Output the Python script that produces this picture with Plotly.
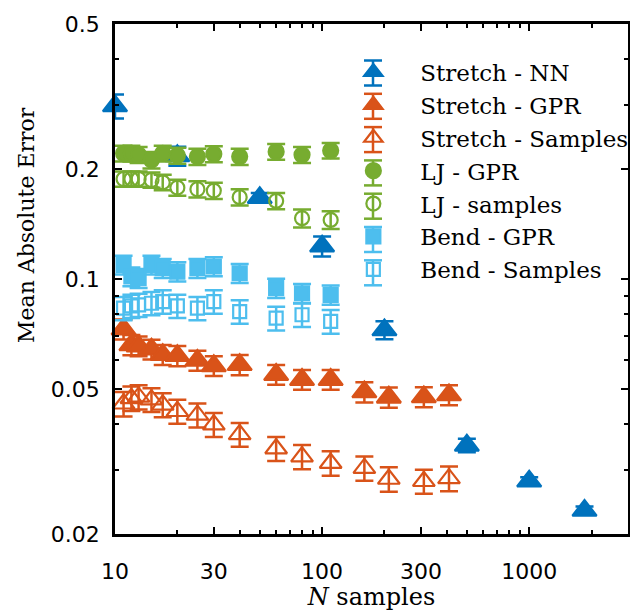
import plotly.graph_objects as go
import math

# ---------------- data ----------------
nn_x = [10, 20, 50, 100, 200, 500, 1000, 1850]
nn_y = [0.298, 0.2175, 0.167, 0.123, 0.0725, 0.0350, 0.0279, 0.0232]
nn_err = [0.0225, 0.013, 0.005, 0.0078, 0.0041, 0.0015, 0.0007, 0.0006]

stretch_x = [11, 12, 13, 15, 17, 20, 25, 30, 40, 60, 80, 110, 160, 210, 310, 410]
stretch_gpr = [0.0729, 0.066, 0.0655, 0.0642, 0.062, 0.0616, 0.0598, 0.0578,
               0.0582, 0.0547, 0.053, 0.053, 0.049, 0.0474, 0.0475, 0.0481]
stretch_gpr_err = [0.0046, 0.0042, 0.0041, 0.0040, 0.0039, 0.0039, 0.0038, 0.0036,
                   0.0037, 0.0034, 0.0033, 0.0033, 0.0031, 0.0030, 0.0030, 0.0030]
stretch_samples = [0.0455, 0.0471, 0.0475, 0.0467, 0.0452, 0.0434, 0.0424, 0.0399,
                   0.0375, 0.0343, 0.0326, 0.0313, 0.0303, 0.0283, 0.0279, 0.0284]
stretch_samples_err = [0.0035, 0.0036, 0.0036, 0.0035, 0.0034, 0.0033, 0.0032, 0.0030,
                       0.0028, 0.0026, 0.0025, 0.0024, 0.0023, 0.0022, 0.0021, 0.0022]

lj_x = [11, 12, 13, 15, 17, 20, 25, 30, 40, 60, 80, 110]
lj_gpr = [0.221, 0.221, 0.219, 0.212, 0.221, 0.218, 0.2165, 0.220, 0.2165, 0.2234, 0.219, 0.2249]
lj_gpr_err = [0.011, 0.011, 0.011, 0.011, 0.011, 0.011, 0.011, 0.011, 0.011, 0.011, 0.011, 0.011]
lj_samples = [0.188, 0.188, 0.188, 0.1868, 0.184, 0.178, 0.1762, 0.1747, 0.1676, 0.1637, 0.1468, 0.1452]
lj_samples_err = [0.009, 0.009, 0.009, 0.009, 0.009, 0.009, 0.009, 0.009, 0.0085, 0.0085, 0.0083, 0.0082]

bend_x = [11, 12, 13, 15, 17, 20, 25, 30, 40, 60, 80, 110]
bend_gpr = [0.1093, 0.1016, 0.1005, 0.1093, 0.1071, 0.1048, 0.1071, 0.1082, 0.1037, 0.0944, 0.0914, 0.0905]
bend_gpr_err = [0.0065, 0.006, 0.006, 0.0065, 0.0064, 0.0063, 0.0064, 0.0065, 0.0062, 0.0057, 0.0055, 0.0055]
bend_samples = [0.0832, 0.0844, 0.0849, 0.0858, 0.0867, 0.0844, 0.0832, 0.0867, 0.0814, 0.0781, 0.0798, 0.0765]
bend_samples_err = [0.0061, 0.0062, 0.0062, 0.0063, 0.0064, 0.0062, 0.0061, 0.0064, 0.006, 0.0058, 0.0059, 0.0057]

x_ticks = [10, 30, 100, 300, 1000]
x_ticktext = ["10", "30", "100", "300", "1000"]
x_minor = [20, 40, 50, 60, 70, 80, 90, 200, 400, 500, 600, 700, 800, 900, 2000]
y_ticks = [0.02, 0.05, 0.1, 0.2, 0.5]
y_ticktext = ["0.02", "0.05", "0.1", "0.2", "0.5"]
y_minor = [0.03, 0.04, 0.06, 0.07, 0.08, 0.09, 0.3, 0.4]

BLUE = "#0072BD"
ORANGE = "#D95319"
GREEN = "#77AC30"
LBLUE = "#4DBEEE"

series = [
    ("Stretch - NN", nn_x, nn_y, nn_err, BLUE, "triangle-up", 21),
    ("Stretch - GPR", stretch_x, stretch_gpr, stretch_gpr_err, ORANGE, "triangle-up", 21),
    ("Stretch - Samples", stretch_x, stretch_samples, stretch_samples_err, ORANGE, "triangle-up-open", 19),
    ("LJ - GPR", lj_x, lj_gpr, lj_gpr_err, GREEN, "circle", 15),
    ("LJ - samples", lj_x, lj_samples, lj_samples_err, GREEN, "circle-open", 14),
    ("Bend - GPR", bend_x, bend_gpr, bend_gpr_err, LBLUE, "square", 14),
    ("Bend - Samples", bend_x, bend_samples, bend_samples_err, LBLUE, "square-open", 13),
]

W, H = 630, 611
ML, MR, MT, MB = 115, 2, 24, 77
PW, PH = W - ML - MR, H - MT - MB


def px_x(px):
    return (px - ML) / PW


def px_y(py):
    return (H - MB - py) / PH


fig = go.Figure()
for name, xs, ys, es, col, sym, sz in series:
    fig.add_trace(go.Scatter(
        x=xs, y=ys, name=name, mode="markers", cliponaxis=False,
        marker=dict(symbol=sym, size=sz, color=col,
                    line=dict(color=col, width=2.2)),
        error_y=dict(type="data", array=es, visible=True, color=col,
                     thickness=2.5, width=9),
    ))

# error-bar glyphs behind the legend markers (legend decoration)
legend_sym_x = 373
legend_row0 = 73
legend_row_step = 33.3
shapes = []
for i, s in enumerate(series):
    col = s[4]
    cy = legend_row0 + i * legend_row_step
    shapes.append(dict(type="line", xref="paper", yref="paper",
                       x0=px_x(legend_sym_x), x1=px_x(legend_sym_x),
                       y0=px_y(cy - 12.5), y1=px_y(cy + 12.5),
                       line=dict(color=col, width=2.5)))
    for dy in (-12.5, 12.5):
        shapes.append(dict(type="line", xref="paper", yref="paper",
                           x0=px_x(legend_sym_x - 9), x1=px_x(legend_sym_x + 9),
                           y0=px_y(cy + dy), y1=px_y(cy + dy),
                           line=dict(color=col, width=2.5)))

axis_common = dict(
    type="log", showline=True, linecolor="black", linewidth=2.5,
    mirror="allticks", ticks="inside", ticklen=7, tickwidth=2, tickcolor="black",
    showgrid=False, zeroline=False, automargin=False,
    tickfont=dict(family="DejaVu Sans", size=22, color="black"),
)

fig.update_layout(
    width=W, height=H,
    margin=dict(l=ML, r=MR, t=MT, b=MB, autoexpand=False),
    paper_bgcolor="white", plot_bgcolor="white",
    xaxis=dict(
        range=[1, math.log10(3000)],
        tickmode="array", tickvals=x_ticks, ticktext=x_ticktext,
        minor=dict(tickmode="array", tickvals=x_minor, ticks="inside",
                   ticklen=4, tickwidth=2, tickcolor="black"),
        ticklabelstandoff=16,
        title=dict(text="<i>N</i> samples", standoff=2,
                   font=dict(family="DejaVu Serif", size=24, color="black")),
        **axis_common,
    ),
    yaxis=dict(
        range=[math.log10(0.02), math.log10(0.5)],
        tickmode="array", tickvals=y_ticks, ticktext=y_ticktext,
        minor=dict(tickmode="array", tickvals=y_minor, ticks="inside",
                   ticklen=4, tickwidth=2, tickcolor="black"),
        ticklabelstandoff=8,
        **axis_common,
    ),
    legend=dict(
        x=0.412, y=0.948, xanchor="left", yanchor="top",
        bgcolor="rgba(0,0,0,0)", borderwidth=0,
        itemwidth=84,
        font=dict(family="DejaVu Serif", size=23, color="black"),
    ),
    showlegend=True,
    shapes=shapes,
    annotations=[dict(
        text="Mean Absolute Error", xref="paper", yref="paper",
        x=-0.1715, y=0.606, xanchor="center", yanchor="middle",
        textangle=-90, showarrow=False,
        font=dict(family="DejaVu Serif", size=22, color="black"),
    )],
)

fig.write_html("out.html")
